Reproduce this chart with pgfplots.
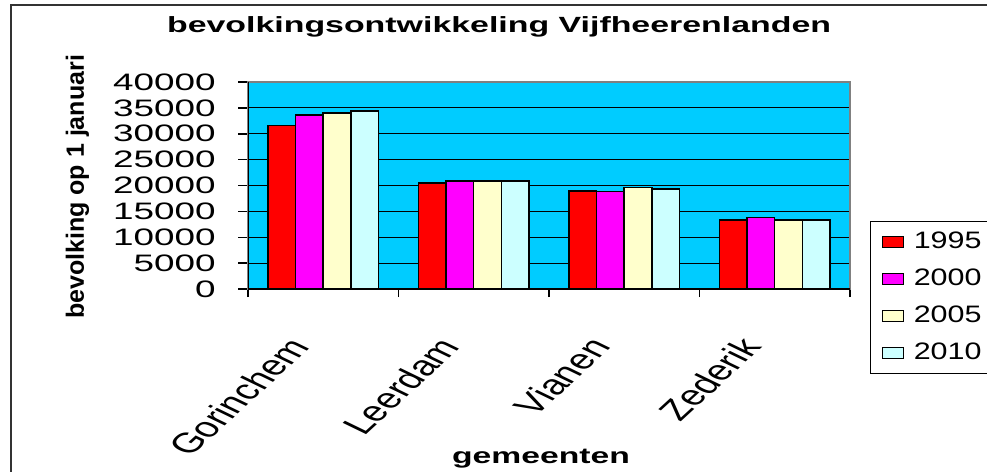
\documentclass[border=0pt]{standalone}
\usepackage{graphicx}
\usepackage{fontspec}
\setmainfont{Liberation Sans}
\usepackage{pgfplots}
\pgfplotsset{compat=1.18}
\definecolor{cRed}{HTML}{FF0000}
\definecolor{cMag}{HTML}{FF00FF}
\definecolor{cYel}{HTML}{FFFFCC}
\definecolor{cCya}{HTML}{CCFFFF}
\definecolor{cBg}{HTML}{00CCFF}
\pgfplotsset{
  mylegend/.style={legend image code/.code={\draw[##1, line width=0.6pt] (0pt,-2.75pt) rectangle (10.5pt,2.75pt);}}
}
\begin{document}
\begin{tikzpicture}
\useasboundingbox (0,0) rectangle (493.5pt,236pt);
\draw[line width=0.75pt, black!80] (5.5pt,-5pt) rectangle (500pt,233.5pt);
\begin{axis}[
  at={(124pt,91.5pt)}, anchor=south west,
  scale only axis, width=301pt, height=103.5pt,
  xmin=-0.5, xmax=3.5, ymin=0, ymax=40000,
  ybar=0pt, bar width=13.85pt,
  xtick={0,1,2,3},
  xticklabels={Gorinchem,Leerdam,Vianen,Zederik},
  minor xtick={-0.5,0.5,1.5,2.5,3.5},
  ytick={0,5000,...,40000},
  scaled y ticks=false,
  /pgf/number format/1000 sep={},
  /pgf/number format/assume math mode=true,
  yticklabel={\scalebox{1.55}[1]{\pgfmathprintnumber{\tick}}},
  yticklabel style={anchor=east, inner sep=0pt, xshift=-11pt, font=\fontsize{11.9}{12}\selectfont},
  xticklabel style={anchor=east, inner sep=0pt, font=\fontsize{14}{15}\selectfont, xshift=-12pt, yshift=-21pt, xscale=1.5, rotate=54},
  tick align=outside, xtick pos=bottom, ytick pos=left,
  major tick length=5pt, minor tick length=4pt,
  major x tick style={draw=none},
  minor x tick style={black, line width=0.75pt},
  major y tick style={black, line width=0.75pt},
  ymajorgrids, grid style={black, line width=0.6pt},
  axis background/.style={fill=cBg},
  axis line style={gray, line width=0.6pt},
  title={\scalebox{1.54}[1]{bevolkingsontwikkeling Vijfheerenlanden}},
  title style={at={(axis description cs:0.417,1.182)}, anchor=base, inner sep=0pt, font=\bfseries\fontsize{11}{12}\selectfont},
  xlabel={\scalebox{1.53}[1]{gemeenten}},
  xlabel style={at={(axis description cs:0.4867,-0.8406)}, anchor=base, inner sep=0pt, font=\bfseries\fontsize{11}{12}\selectfont},
  ylabel={bevolking op 1 januari},
  every axis y label/.style={at={(axis description cs:-0.2832,0.4928)}, rotate=90, anchor=center, inner sep=0pt, font=\bfseries\fontsize{12.5}{13}\selectfont},
  legend style={at={(axis description cs:1.0332,0.3285)}, anchor=north west, draw=black, line width=0.6pt,
    inner xsep=5.5pt, inner ysep=1pt, row sep=0pt, column sep=5pt,
    font=\fontsize{11.9}{12}\selectfont, cells={anchor=west},
    nodes={inner sep=0pt, minimum height=18.5pt}},
]
\addplot[fill=cRed, draw=black, line width=0.75pt, mylegend] coordinates {(0,31600) (1,20500) (2,18900) (3,13350)};
\addplot[fill=cMag, draw=black, line width=0.75pt, mylegend] coordinates {(0,33600) (1,20900) (2,18850) (3,13800)};
\addplot[fill=cYel, draw=black, line width=0.75pt, mylegend] coordinates {(0,34000) (1,20900) (2,19650) (3,13300)};
\addplot[fill=cCya, draw=black, line width=0.75pt, mylegend] coordinates {(0,34350) (1,20900) (2,19300) (3,13300)};
\addlegendentry{\scalebox{1.28}[1]{1995}}
\addlegendentry{\scalebox{1.28}[1]{2000}}
\addlegendentry{\scalebox{1.28}[1]{2005}}
\addlegendentry{\scalebox{1.28}[1]{2010}}
\draw[black, line width=0.75pt] (rel axis cs:0,1) -- (rel axis cs:0,0) -- (rel axis cs:1,0);
\end{axis}
\end{tikzpicture}
\end{document}
